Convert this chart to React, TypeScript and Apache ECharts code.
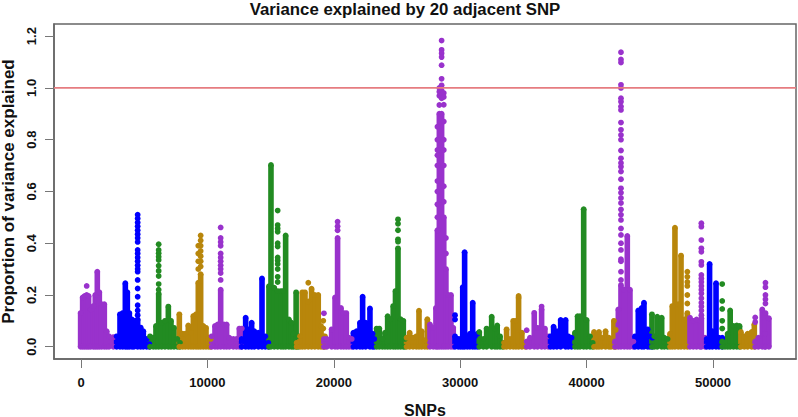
import React, { useEffect, useRef } from "react";
import * as echarts from "echarts";

const xTicks = [0, 10000, 20000, 30000, 40000, 50000];
const yTicks = [0, 0.2, 0.4, 0.6, 0.8, 1.0, 1.2];
const threshold = 1.0;
const colourCycle = ["#9932CC", "#0000FF", "#228B22", "#B8860B"];

// Each row: SNP position, top of the solid stack of points, then any separate points above it.
const chr01 = [[-30,.13],[130,.19],[290,.196],[450,.2,.235],[600,.196],[765,.144],[975,.157],[1130,.2],[1290,.29],[1450,.21],[1635,.164],[1845,.164],[2030,.06],[2215,.04],[2560,.037]];
const chr02 = [[2820,.04],[3085,.125],[3300,.13],[3507,.245],[3665,.21],[3824,.13],[4035,.105],[4190,.1],[4483,.105,.51,.495,.48,.465,.45,.435,.42,.405,.374,.36,.345,.33,.315,.3,.29,.258,.225,.193,.16,.14,.122],[4720,.074],[4930,.06],[5195,.03],[5405,.01]];
const chr03 = [[5460,.04],[5720,.035],[5930,.08],[6145,.205,.396,.374,.361,.348,.335,.313,.293,.273,.242,.22],[6380,.093],[6645,.1],[6910,.155],[7120,.1],[7357,.073],[7620,.03],[7830,.015]];
const chr04 = [[7780,.125],[8040,.05],[8250,.05],[8490,.082],[8700,.054],[8890,.119],[9100,.125],[9280,.247,.39,.36,.33,.3],[9467,.28,.43,.41,.39,.37,.35,.33,.31],[9677,.08],[9890,.073],[10100,.035],[10260,.03]];
const chr05 = [[10340,.04],[10600,.08],[10810,.086],[11050,.22,.461,.42,.405,.39,.36,.345,.33,.315,.3,.285,.258],[11310,.086],[11520,.086],[11735,.035],[12050,.03],[12300,.03],[12530,.07],[12720,.07]];
const chr06 = [[12710,.03],[13027,.112],[13265,.067],[13500,.093],[13710,.06],[14030,.054],[14320,.264],[14580,.04],[14820,.015]];
const chr07 = [[14870,.234],[15030,.702],[15290,.228],[15560,.215,.526,.47,.457,.444,.4,.387,.345,.333,.32,.3,.27,.25],[15820,.215],[16000,.215],[16190,.43],[16450,.105],[16660,.093],[16820,.05],[17020,.21],[17180,.04]];
const chr08 = [[17060,.015],[17330,.04],[17510,.21],[17720,.21],[17980,.175,.247],[18240,.224],[18500,.2],[18770,.2],[18990,.08],[19170,.04,.1,.07],[19300,.04]];
const chr09 = [[19220,.03,.129],[19450,.03],[19830,.067],[20100,.19],[20300,.42,.483,.465,.45],[20570,.15],[20780,.13],[20990,.13],[21200,.035],[21420,.03]];
const chr10 = [[21550,.054],[21800,.06],[22070,.093],[22280,.193],[22520,.093],[22860,.148],[23070,.05],[23200,.03]];
const chr11 = [[23390,.07],[23600,.07],[23840,.03],[24050,.054],[24260,.118],[24470,.106],[24700,.157],[24880,.215],[25080,.38,.492,.475,.45,.415,.406],[25290,.106],[25500,.1],[25630,.03]];
const chr12 = [[25760,.035],[26000,.054],[26270,.035],[26530,.04],[26740,.139],[26950,.06],[27200,.025],[27400,.106]];
const chr13 = [[27610,.086],[27870,.073],[28080,.15],[28200,.45,.85,.8,.76,.74,.7,.64,.6,.55,.5],[28350,.9,1.0,.985,.97,.934],[28530,.9,1.183,1.147,1.134,1.119,1.088,1.035,1.01,.99,.975,.96],[28700,.5,.98,.965,.935,.87,.8,.76,.7,.62,.56],[28870,.3,.42,.36],[29050,.2],[29270,.2],[29450,.073]];
const chr14 = [[29590,.04,.122,.105],[29850,.03],[30030,.03],[30200,.23],[30350,.365],[30560,.04],[30770,.05],[30990,.17],[31170,.04],[31360,.05]];
const chr15 = [[31510,.057],[31830,.03],[32090,.07],[32490,.116],[32750,.07],[32930,.082],[33150,.04],[33360,.015]];
const chr16 = [[33470,.015],[33670,.067],[33940,.03],[34200,.1],[34410,.1],[34620,.19,.196],[34880,.054],[35150,.015]];
const chr17 = [[35260,.02,.064],[35520,.035],[35860,.131],[36120,.073],[36440,.145,.155],[36700,.07],[36970,.04]];
const chr18 = [[37150,.04],[37390,.077],[37650,.06],[37950,.103],[38340,.103],[38550,.04],[38810,.035]];
const chr19 = [[39080,.054],[39290,.118],[39480,.118],[39770,.531],[40000,.103],[40270,.04],[40480,.015]];
const chr20 = [[40590,.057],[40800,.04],[40980,.057],[41190,.035],[41500,.06],[41770,.035],[41930,.03],[42160,.1],[42300,.065]];
const chr21 = [[42250,.02],[42510,.144],[42720,.238,1.138,1.11,1.098,1.012,1.0,.96,.947,.928,.915,.866,.838,.818,.8,.758,.728,.71,.695,.677,.647,.612,.595,.575,.555,.53,.51,.49,.457,.432,.4,.374,.338,.33,.29,.258],[42980,.22],[43220,.428],[43430,.22],[43700,.02]];
const chr22 = [[43830,.04],[44090,.14],[44360,.15],[44540,.17],[44830,.067],[45010,.04],[45200,.035]];
const chr23 = [[45170,.125],[45360,.04],[45590,.116],[45940,.112],[46150,.035],[46410,.03]];
const chr24 = [[46600,.05],[46780,.157],[46990,.46],[47250,.164],[47470,.352],[47730,.105],[47970,.13,.29,.27,.25,.235,.2,.167]];
const chr25 = [[48180,.112],[48440,.1],[48700,.105],[48970,.1],[49080,.11,.477,.464,.412,.38,.367,.328,.316,.277,.264,.25,.235,.22,.206,.187,.17,.155,.14,.122],[49370,.035]];
const chr26 = [[49500,.03],[49730,.32],[49950,.06],[50240,.245],[50470,.035],[50730,.035]];
const chr27 = [[50730,.02,.242,.177,.146,.1,.07],[50950,.015],[51160,.05],[51360,.14],[51620,.08],[51880,.082],[52100,.08]];
const chr28 = [[52210,.057],[52480,.04],[52740,.05],[53060,.057],[53270,.086]];
const chr29 = [[53340,.02,.113,.095],[53590,.035],[53900,.144],[54110,.05],[54150,.13,.247,.23,.2,.183,.167],[54420,.11]];

const chromosomes = [chr01,chr02,chr03,chr04,chr05,chr06,chr07,chr08,chr09,chr10,chr11,chr12,chr13,chr14,chr15,chr16,chr17,chr18,chr19,chr20,chr21,chr22,chr23,chr24,chr25,chr26,chr27,chr28,chr29];

const font = "'Liberation Sans', Arial, sans-serif";

export default function App() {
  const ref = useRef<HTMLDivElement>(null);
  useEffect(() => {
    document.body.style.margin = "0";
    document.body.style.background = "#fff";
    const chart = echarts.init(ref.current!, undefined, { renderer: "svg" });
    const series: any[] = [];
    chromosomes.forEach((rows, i) => {
      const colour = colourCycle[i % 4];
      series.push({
        type: "custom",
        coordinateSystem: "cartesian2d",
        clip: false,
        silent: true,
        encode: { x: 0, y: 1 },
        data: rows.map((r) => [r[0], r[1]]),
        renderItem: (_: any, api: any) => {
          const a = api.coord([api.value(0), api.value(1)]);
          const b = api.coord([api.value(0), 0]);
          return {
            type: "line",
            shape: { x1: a[0], y1: a[1], x2: b[0], y2: b[1] },
            style: { stroke: colour, lineWidth: 5.6, fill: null },
          };
        },
      });
      const dots: number[][] = [];
      rows.forEach((r) => {
        dots.push([r[0], r[1]]);
        dots.push([r[0], 0]);
        r.slice(2).forEach((v) => dots.push([r[0], v]));
      });
      series.push({
        type: "scatter",
        silent: true,
        symbol: "circle",
        symbolSize: 5.8,
        itemStyle: { color: colour, opacity: 1 },
        data: dots,
      });
    });
    series.push({
      type: "line",
      silent: true,
      symbol: "none",
      z: 10,
      lineStyle: { color: "#E67C80", width: 1.6 },
      data: [[-2136, threshold], [56567, threshold]],
    });
    chart.setOption({
      animation: false,
      backgroundColor: "#fff",
      title: {
        text: "Variance explained by 20 adjacent SNP",
        left: 400,
        top: -4,
        textAlign: "center",
        textStyle: { fontFamily: font, fontSize: 16.8, fontWeight: "bold", color: "#111" },
      },
      grid: { left: 54, top: 24, width: 742, height: 335, outerBoundsMode: "none", containLabel: false, show: true, borderColor: "#666", borderWidth: 1.5, backgroundColor: "#fff" },
      xAxis: {
        type: "value",
        min: -2136,
        max: 56567,
        name: "SNPs",
        nameLocation: "middle",
        nameGap: 43,
        nameTextStyle: { fontFamily: font, fontSize: 16, fontWeight: "bold", color: "#111" },
        splitLine: { show: false },
        axisLine: { show: true, onZero: false, lineStyle: { color: "#666", width: 1.5 } },
        axisTick: { show: true, length: 9, customValues: xTicks, lineStyle: { color: "#777", width: 1 } },
        axisLabel: {
          customValues: xTicks,
          margin: 17,
          fontFamily: font,
          fontSize: 13,
          fontWeight: "bold",
          color: "#111",
          formatter: (v: number) => String(v),
        },
      },
      yAxis: {
        type: "value",
        min: -0.0475,
        max: 1.247,
        name: "Proportion of variance explained",
        nameLocation: "middle",
        nameGap: 34,
        nameTextStyle: { fontFamily: font, fontSize: 17, fontWeight: "bold", color: "#111" },
        splitLine: { show: false },
        axisLine: { show: true, onZero: false, lineStyle: { color: "#666", width: 1.5 } },
        axisTick: { show: true, length: 9, customValues: yTicks, lineStyle: { color: "#777", width: 1 } },
        axisLabel: {
          customValues: yTicks,
          rotate: 90,
          margin: 16,
          fontFamily: font,
          fontSize: 13,
          fontWeight: "bold",
          color: "#111",
          formatter: (v: number) => v.toFixed(1),
        },
      },
      series,
    });
    return () => chart.dispose();
  }, []);
  return <div ref={ref} style={{ position: "absolute", left: 0, top: 0, width: 798, height: 417 }} />;
}
